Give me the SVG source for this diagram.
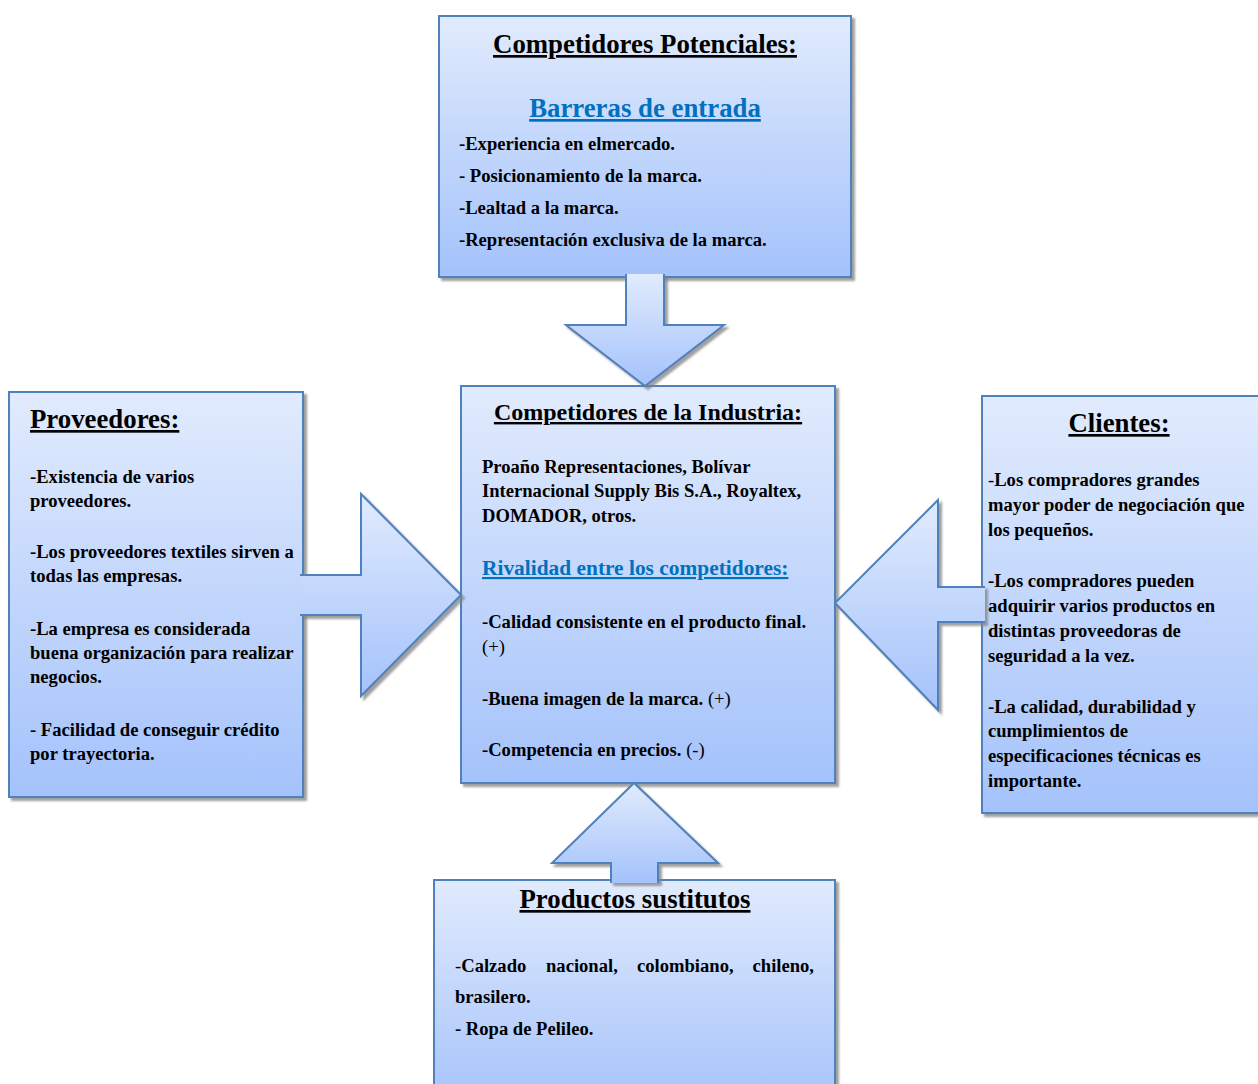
<svg xmlns="http://www.w3.org/2000/svg" width="1258" height="1084" viewBox="0 0 1258 1084">
<defs>
<linearGradient id="g" x1="0" y1="0" x2="0" y2="1">
<stop offset="0" stop-color="#e1ebfd"/>
<stop offset="1" stop-color="#a4c2fb"/>
</linearGradient>
<filter id="sh" x="-5%" y="-5%" width="115%" height="115%">
<feDropShadow dx="3" dy="3" stdDeviation="0.8" flood-color="#808080" flood-opacity="0.75"/>
</filter>
</defs>
<style>
.box{fill:url(#g);stroke:#4f81bd;stroke-width:2;filter:url(#sh)}
.arr{fill:url(#g);stroke:#4f81bd;stroke-width:2;stroke-linejoin:miter;filter:url(#sh)}
text{font-family:"Liberation Serif","Times New Roman",serif;font-weight:bold;fill:#000}
.t{font-size:18.6px}
.h{font-size:26.8px;text-decoration:underline}
.h2{font-size:24px;text-decoration:underline}
.b{fill:#0070c0;text-decoration:underline}
.n{font-weight:normal}
</style>
<rect width="1258" height="1084" fill="#fff"/>

<g id="potenciales">
<rect class="box" x="439" y="16" width="412" height="261"/>
<text class="h" x="645" y="53" text-anchor="middle">Competidores Potenciales:</text>
<text class="b" x="645" y="117" text-anchor="middle" font-size="26.8">Barreras de entrada</text>
<text class="t" x="459" y="150">-Experiencia en elmercado.</text>
<text class="t" x="459" y="182">- Posicionamiento de la marca.</text>
<text class="t" x="459" y="214">-Lealtad a la marca.</text>
<text class="t" x="459" y="246">-Representación exclusiva de la marca.</text>
</g>

<g id="proveedores">
<rect class="box" x="9" y="392" width="294" height="405"/>
<text class="h" x="30" y="428">Proveedores:</text>
<text class="t" x="30" y="483">-Existencia de varios</text>
<text class="t" x="30" y="507">proveedores.</text>
<text class="t" x="30" y="558">-Los proveedores textiles sirven a</text>
<text class="t" x="30" y="582">todas las empresas.</text>
<text class="t" x="30" y="635">-La empresa es considerada</text>
<text class="t" x="30" y="659">buena organización para realizar</text>
<text class="t" x="30" y="683">negocios.</text>
<text class="t" x="30" y="736">- Facilidad de conseguir crédito</text>
<text class="t" x="30" y="760">por trayectoria.</text>
</g>

<g id="industria">
<rect class="box" x="461" y="386" width="374" height="397"/>
<text class="h2" x="648" y="420" text-anchor="middle">Competidores de la Industria:</text>
<text class="t" x="482" y="473">Proaño Representaciones, Bolívar</text>
<text class="t" x="482" y="497">Internacional Supply Bis S.A., Royaltex,</text>
<text class="t" x="482" y="522">DOMADOR, otros.</text>
<text class="b" x="482" y="575" font-size="21.4">Rivalidad entre los competidores:</text>
<text class="t" x="482" y="628">-Calidad consistente en el producto final.</text>
<text class="t n" x="482" y="653">(+)</text>
<text class="t" x="482" y="705">-Buena imagen de la marca. <tspan class="n">(+)</tspan></text>
<text class="t" x="482" y="756">-Competencia en precios. <tspan class="n">(-)</tspan></text>
</g>

<g id="clientes">
<rect class="box" x="982" y="396" width="290" height="417"/>
<text class="h" x="1119" y="432" text-anchor="middle">Clientes:</text>
<text class="t" x="988" y="486"><tspan class="n">-</tspan>Los compradores grandes</text>
<text class="t" x="988" y="511">mayor poder de negociación que</text>
<text class="t" x="988" y="536">los pequeños.</text>
<text class="t" x="988" y="587">-Los compradores pueden</text>
<text class="t" x="988" y="612">adquirir varios productos en</text>
<text class="t" x="988" y="637">distintas proveedoras de</text>
<text class="t" x="988" y="662">seguridad a la vez.</text>
<text class="t" x="988" y="713">-La calidad, durabilidad y</text>
<text class="t" x="988" y="737">cumplimientos de</text>
<text class="t" x="988" y="762">especificaciones técnicas es</text>
<text class="t" x="988" y="787">importante.</text>
</g>

<g id="sustitutos">
<rect class="box" x="434" y="880" width="401" height="230"/>
<text class="h" x="635" y="908" text-anchor="middle" font-size="27.8">Productos sustitutos</text>
<text class="t" x="455" y="972"><tspan class="n">-</tspan>Calzado</text>
<text class="t" x="546" y="972">nacional,</text>
<text class="t" x="637" y="972">colombiano,</text>
<text class="t" x="814" y="972" text-anchor="end">chileno,</text>
<text class="t" x="455" y="1003">brasilero.</text>
<text class="t" x="455" y="1035">- Ropa de Pelileo.</text>
</g>

<g id="connectors">
<path class="arr" d="M626,274 L626,325 L566,325 L645,386 L724,325 L664,325 L664,274"/>
<path class="arr" d="M300,575 L361,575 L361,494 L461,595 L361,696 L361,615 L300,615"/>
<path class="arr" d="M985,587 L938,587 L938,500 L835,603 L938,710 L938,622 L985,622"/>
<path class="arr" d="M611,883 L611,863 L552,863 L634,783 L718,863 L658,863 L658,883"/>
</g>
</svg>
